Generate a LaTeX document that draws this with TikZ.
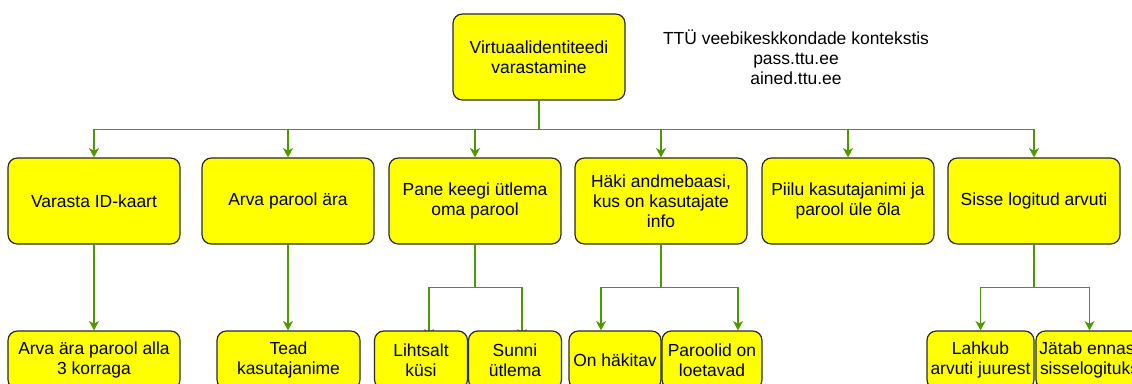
\documentclass[tikz,border=0pt]{standalone}
\usepackage{fontspec}
\setmainfont{Liberation Sans}
\usetikzlibrary{arrows.meta,backgrounds}
\definecolor{boxyellow}{RGB}{255,255,0}
\definecolor{boxline}{RGB}{40,40,40}
\definecolor{linkgreen}{RGB}{77,153,0}

\begin{document}
\begin{tikzpicture}[x=0.75pt,y=-0.75pt,
    font=\fontsize{13.1}{15}\selectfont,
    box/.style={rectangle,rounded corners=7pt,draw=boxline,line width=0.9pt,fill=boxyellow,align=center,inner sep=1pt},
    bigbox/.style={box,minimum width=129pt,minimum height=64.5pt},
    leafbox/.style={box,minimum height=43.5pt},
    link/.style={draw=linkgreen,line width=1pt,-{Stealth[length=7pt,width=7.5pt,inset=2pt]}}]
    \useasboundingbox (0,0) rectangle (1132,383);

    % Root and remark
    \node[bigbox] (root) at (539,57) {Virtuaalidentiteedi\\varastamine};
    \node[align=center] (remark) at (796,57) {TTÜ veebikeskkondade kontekstis\\pass.ttu.ee\\ained.ttu.ee};

    % First level
    \node[bigbox] (steal) at (94,201) {Varasta ID-kaart};
    \node[bigbox] (guess) at (288,201) {Arva parool ära};
    \node[bigbox] (tell) at (475,201) {Pane keegi ütlema\\oma parool};
    \node[bigbox] (hack) at (661,201) {Häki andmebaasi,\\kus on kasutajate\\info};
    \node[bigbox] (peek) at (848,201) {Piilu kasutajanimi ja\\parool üle õla};
    \node[bigbox] (session) at (1034,201) {Sisse logitud arvuti};

    % Second level
    \node[leafbox,minimum width=129pt] (tries) at (94,360) {Arva ära parool alla\\3 korraga};
    \node[leafbox,minimum width=107.25pt] (username) at (288.5,360) {Tead\\kasutajanime};
    \node[leafbox,minimum width=69.75pt] (ask) at (421,360) {Lihtsalt\\küsi};
    \node[leafbox,minimum width=69.75pt] (force) at (515,360) {Sunni\\ütlema};
    \node[leafbox,minimum width=69pt] (hacked) at (615,360) {On häkitav};
    \node[leafbox,minimum width=75pt] (readable) at (712,360) {Paroolid on\\loetavad};
    \node[leafbox,minimum width=80.25pt] (leaves) at (980.5,360) {Lahkub\\arvuti juurest};
    \node[leafbox,minimum width=80.25pt] (stays) at (1089.5,360) {Jätab ennast\\sisselogituks};

    % Root to first level
    \foreach \child in {steal,guess,tell,hack,peek,session}
        \draw[link] (root.south) -- ++(0,29) -| (\child.north);

    % First to second level
    \draw[link] (steal.south) -- (tries.north);
    \draw[link] (guess.south) -- (guess.south |- username.north);
    \draw[link] (hack.south) -- ++(0,43) -| ([xshift=-10.5pt]hacked.north);
    \draw[link] (hack.south) -- ++(0,43) -| ([xshift=19.5pt]readable.north);
    \draw[link] (session.south) -- ++(0,43) -| (leaves.north);
    \draw[link] (session.south) -- ++(0,43) -| (stays.north);
    \begin{pgfonlayer}{background}
        \draw[link,shorten >=-6pt] (tell.south) -- ++(0,43) -| ([xshift=6pt]ask.north);
        \draw[link,shorten >=-6pt] (tell.south) -- ++(0,43) -| ([xshift=5.25pt]force.north);
    \end{pgfonlayer}
\end{tikzpicture}
\end{document}
